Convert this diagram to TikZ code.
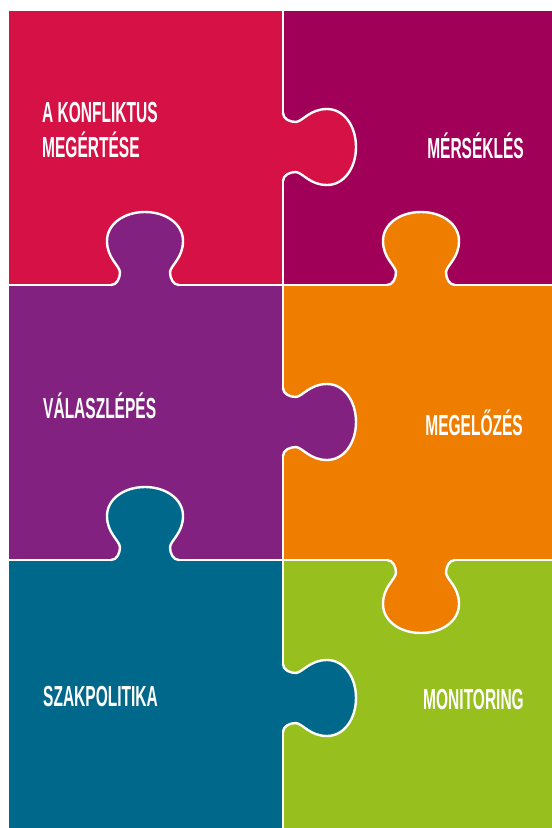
\documentclass[tikz,border=0pt]{standalone}
\usepackage{fontspec}
\newfontfamily\labelfont{Liberation Sans}[FakeStretch=0.535]

\definecolor{pzred}{HTML}{D51145}
\definecolor{pzmagenta}{HTML}{A10058}
\definecolor{pzpurple}{HTML}{832180}
\definecolor{pzorange}{HTML}{EF7D00}
\definecolor{pzteal}{HTML}{00688B}
\definecolor{pzgreen}{HTML}{97BF1E}

\tikzset{
  % one puzzle knob: u points out of the piece, v runs along its edge
  knob/.style={insert path={(0,-34) .. controls (0,-28) and (7,-25) .. (13,-25)
      .. controls (20,-26) and (27,-38) .. (44,-38)
      .. controls (61,-38) and (73,-21) .. (73,0)
      .. controls (73,21) and (61,38) .. (44,38)
      .. controls (27,38) and (20,26) .. (13,25)
      .. controls (7,25) and (0,28) .. (0,34)}},
  right knob/.style={shift={#1}, x={(1pt,0pt)}, y={(0pt,-1pt)}},
  up knob/.style={shift={#1}, x={(0pt,1pt)}, y={(1pt,0pt)}},
  down knob/.style={shift={#1}, x={(0pt,-1pt)}, y={(1pt,0pt)}},
  seam/.style={draw=white, line width=2.4pt, line cap=round, line join=round},
  lab/.style={text=white, inner sep=0pt,
    font=\labelfont\bfseries\fontsize{29}{35}\selectfont},
}

\begin{document}
\begin{tikzpicture}[x=1pt, y=-1pt]
  \useasboundingbox (0,0) rectangle (552,828);

  % pieces
  \fill[pzred]     (9,11)    rectangle (283,285);
  \fill[pzmagenta] (283,11)  rectangle (552,285);
  \fill[pzpurple]  (9,285)   rectangle (283,560);
  \fill[pzorange]  (283,285) rectangle (552,560);
  \fill[pzteal]    (9,560)   rectangle (283,828);
  \fill[pzgreen]   (283,560) rectangle (552,828);

  % knobs reaching into the neighbouring piece
  \begin{scope}[right knob={(283,147)}] \fill[pzred, knob] -- cycle; \draw[seam, knob]; \end{scope}
  \begin{scope}[right knob={(283,422)}] \fill[pzpurple, knob] -- cycle; \draw[seam, knob]; \end{scope}
  \begin{scope}[right knob={(283,698)}] \fill[pzteal, knob] -- cycle; \draw[seam, knob]; \end{scope}
  \begin{scope}[up knob={(145,285)}] \fill[pzpurple, knob] -- cycle; \draw[seam, knob]; \end{scope}
  \begin{scope}[up knob={(421,285)}] \fill[pzorange, knob] -- cycle; \draw[seam, knob]; \end{scope}
  \begin{scope}[up knob={(145,560)}] \fill[pzteal, knob] -- cycle; \draw[seam, knob]; \end{scope}
  \begin{scope}[down knob={(421,560)}] \fill[pzorange, knob] -- cycle; \draw[seam, knob]; \end{scope}

  % straight seams between the knobs
  \draw[seam] (283,11) -- (283,113) (283,181) -- (283,388)
              (283,456) -- (283,664) (283,732) -- (283,828);
  \draw[seam] (9,285) -- (111,285) (179,285) -- (387,285) (455,285) -- (552,285);
  \draw[seam] (9,560) -- (111,560) (179,560) -- (387,560) (455,560) -- (552,560);

  % labels
  \node[lab, anchor=base west, align=left] (understand) at (42,157) {A KONFLIKTUS\\MEGÉRTÉSE};
  \node[lab, anchor=base east] (mitigate) at (524,158) {MÉRSÉKLÉS};
  \node[lab, anchor=base west] (respond)  at (43,418)  {VÁLASZLÉPÉS};
  \node[lab, anchor=base east] (prevent)  at (523,435) {MEGELŐZÉS};
  \node[lab, anchor=base west] (policy)   at (43,706)  {SZAKPOLITIKA};
  \node[lab, anchor=base east] (monitor)  at (524,709) {MONITORING};
\end{tikzpicture}
\end{document}
